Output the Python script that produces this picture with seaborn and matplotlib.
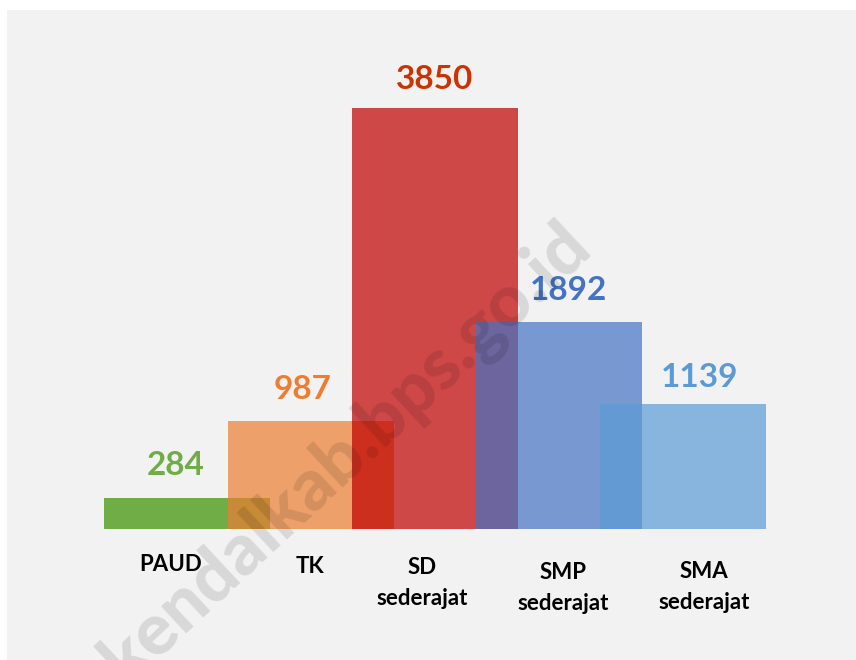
import matplotlib
matplotlib.use("Agg")
import matplotlib.pyplot as plt
import seaborn as sns
import pandas as pd
from matplotlib.patches import Rectangle

# ---- data ----
categories = ["PAUD", "TK", "SD\nsederajat", "SMP\nsederajat", "SMA\nsederajat"]
values = [284, 987, 3850, 1892, 1139]
bar_colors = ["#70ad47", "#ed7d31", "#c00000", "#4472c4", "#5b9bd5"]
label_colors = ["#70ad47", "#ed7d31", "#cc3300", "#4472c4", "#5b9bd5"]
bar_alphas = [1.0, 0.7, 0.7, 0.7, 0.7]
watermark = "kendalkab.bps.go.id"

W, H = 856, 660
sns.set_theme(style="white")
plt.rcParams["font.family"] = ["Lato", "DejaVu Sans"]

fig = plt.figure(figsize=(W / 100, H / 100), dpi=100, facecolor="white")
fig.patches.append(Rectangle((7 / W, 0), 1 - 7 / W, 1 - 10 / H,
                             transform=fig.transFigure, facecolor="#f2f2f2",
                             edgecolor="none", zorder=-10))
ax = fig.add_axes([0, 0, 1, 1])
ax.set_facecolor("none")

df = pd.DataFrame({"cat": categories, "val": values})
sns.barplot(data=df, x="cat", y="val", hue="cat", palette=bar_colors,
            width=166 / 124, saturation=1, legend=False, ax=ax, linewidth=0)
for p, a in zip(ax.patches, bar_alphas):
    p.set_alpha(a)

# layout: bar 0 centre at 187px, 124px per category, baseline at 529px
x0, step = 187, 124
ax.set_xlim(-x0 / step, (W - x0) / step)
k = (529 - 108) / 3850.0
ax.set_ylim(-(H - 529) / k, 529 / k)
ax.axis("off")

val_dx = [-11, -8, 0, 9, 17]
val_dy = [23, 22, 19, 22, 17]
cat_dx = [-16, -1, -13, 4, 21]
cat_dy = [42, 44, 44, 49, 48]
line_step = 32
for i, (v, c) in enumerate(zip(values, label_colors)):
    ax.annotate(f"{v}", xy=(i, v), xytext=(val_dx[i], val_dy[i]),
                textcoords="offset pixels", ha="center", va="baseline",
                fontsize=24, fontweight="bold", color=c)
    extra = line_step * categories[i].count("\n")
    ax.annotate(categories[i], xy=(i, 0), xytext=(cat_dx[i], -cat_dy[i] - extra),
                textcoords="offset pixels", ha="center", va="baseline",
                fontsize=16, fontweight="bold", color="black",
                linespacing=1.56)

fig.text(594 / W, 1 - 250 / H, watermark, rotation=43, rotation_mode="anchor",
         ha="right", va="baseline", fontsize=52, fontweight="black",
         color="black", alpha=0.11, zorder=20)

fig.savefig("out.png", dpi=100, facecolor="white")
